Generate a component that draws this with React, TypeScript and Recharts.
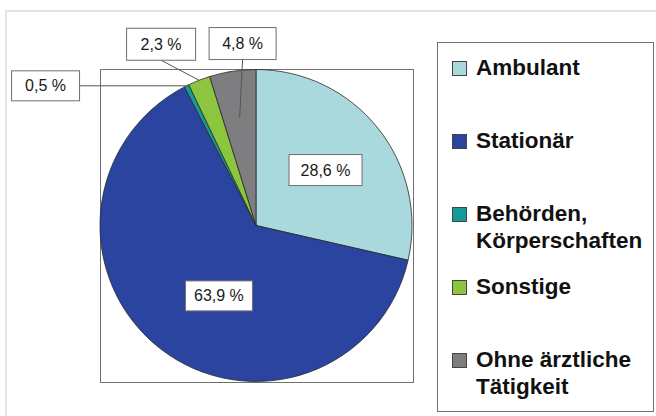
import { Cell, Legend, Pie, PieChart } from "recharts";

const categories = [
  "Ambulant",
  "Stationär",
  "Behörden, Körperschaften",
  "Sonstige",
  "Ohne ärztliche Tätigkeit",
];
const legendLines = [
  ["Ambulant"],
  ["Stationär"],
  ["Behörden,", "Körperschaften"],
  ["Sonstige"],
  ["Ohne ärztliche", "Tätigkeit"],
];
const shares = [28.6, 63.9, 0.5, 2.3, 4.8];
const shareLabels = ["28,6 %", "63,9 %", "0,5 %", "2,3 %", "4,8 %"];
const colors = ["#a9d9dd", "#2b449f", "#149a9a", "#8cc63e", "#7e7e80"];

const data = categories.map((name, i) => ({ name, value: shares[i] }));

const RADIAN = Math.PI / 180;
const FONT = "'Liberation Sans', Arial, sans-serif";

// inside labels sit on the slice, outside ones get a box + leader line
const labelLayout = [
  { kind: "inside", r: 0.57, shift: 0, w: 73, h: 31 },
  { kind: "inside", r: 0.51, shift: 10, w: 67, h: 30 },
  { kind: "side", r: 1, dx: -141, dy: 0, w: 68, h: 30 },
  { kind: "top", r: 1, dx: -38, dy: -36, w: 69, h: 32 },
  { kind: "top", r: 0.7, dx: 3, dy: -74, w: 67, h: 32 },
];

function renderLabel(props: any) {
  const { cx, cy, midAngle, outerRadius, index } = props;
  const l: any = labelLayout[index];
  const ang = (midAngle + (l.shift || 0)) * RADIAN;
  const ax = cx + outerRadius * l.r * Math.cos(ang);
  const ay = cy - outerRadius * l.r * Math.sin(ang);
  let bx = ax;
  let by = ay;
  let line = null;
  if (l.kind !== "inside") {
    bx = ax + l.dx;
    by = ay + l.dy;
    const ex = l.kind === "side" ? bx + l.w / 2 : bx;
    const ey = l.kind === "side" ? ay : by + l.h / 2;
    line = <line x1={ax} y1={ay} x2={ex} y2={ey} stroke="#555" strokeWidth={1} />;
  }
  return (
    <g key={`lbl-${index}`}>
      {line}
      <rect
        x={bx - l.w / 2}
        y={by - l.h / 2}
        width={l.w}
        height={l.h}
        fill="#fff"
        stroke="#6f6f6f"
        strokeWidth={1}
      />
      <text
        x={bx}
        y={by}
        textAnchor="middle"
        dominantBaseline="central"
        fontFamily={FONT}
        fontSize={16}
        fill="#1a1a1a"
      >
        {shareLabels[index]}
      </text>
    </g>
  );
}

function LegendBox() {
  return (
    <div
      style={{
        boxSizing: "border-box",
        width: 217,
        height: 370,
        border: "1.5px solid #707070",
        background: "#fff",
        paddingTop: 11,
        paddingLeft: 14,
        fontFamily: FONT,
        fontWeight: 700,
        fontSize: 22.5,
        lineHeight: "27px",
        color: "#111",
      }}
    >
      {legendLines.map((lines, i) => (
        <div key={categories[i]} style={{ display: "flex", height: 73 }}>
          <div
            style={{
              width: 13,
              height: 13,
              marginTop: 7,
              marginRight: 9,
              background: colors[i],
              border: "1px solid #444",
              flexShrink: 0,
            }}
          />
          <div style={{ whiteSpace: "nowrap" }}>
            {lines.map((t) => (
              <div key={t}>{t}</div>
            ))}
          </div>
        </div>
      ))}
    </div>
  );
}

export default function App() {
  return (
    <div
      style={{
        position: "fixed",
        left: 0,
        top: 0,
        width: 656,
        height: 416,
        background: "#fff",
        overflow: "hidden",
      }}
    >
      {/* outer chart frame */}
      <div
        style={{
          position: "absolute",
          left: 5,
          top: 10,
          width: 670,
          height: 430,
          border: "2px solid #e4e4e4",
        }}
      />
      {/* plot area frame */}
      <div
        style={{
          position: "absolute",
          left: 100,
          top: 69,
          width: 312,
          height: 312,
          border: "1.5px solid #707070",
        }}
      />
      <div style={{ position: "absolute", left: 0, top: 0 }}>
        <PieChart width={656} height={416} margin={{ top: 0, right: 0, bottom: 0, left: 0 }}>
          <Pie
            data={data}
            dataKey="value"
            nameKey="name"
            cx={256}
            cy={225.5}
            outerRadius={156}
            startAngle={90}
            endAngle={-270}
            stroke="#2a2a2a"
            strokeWidth={0.8}
            label={renderLabel}
            labelLine={false}
            isAnimationActive={false}
          >
            {data.map((d, i) => (
              <Cell key={d.name} fill={colors[i]} />
            ))}
          </Pie>
          <Legend
            content={<LegendBox />}
            wrapperStyle={{ left: 437, top: 42, width: 217, height: 370 }}
          />
        </PieChart>
      </div>
    </div>
  );
}
